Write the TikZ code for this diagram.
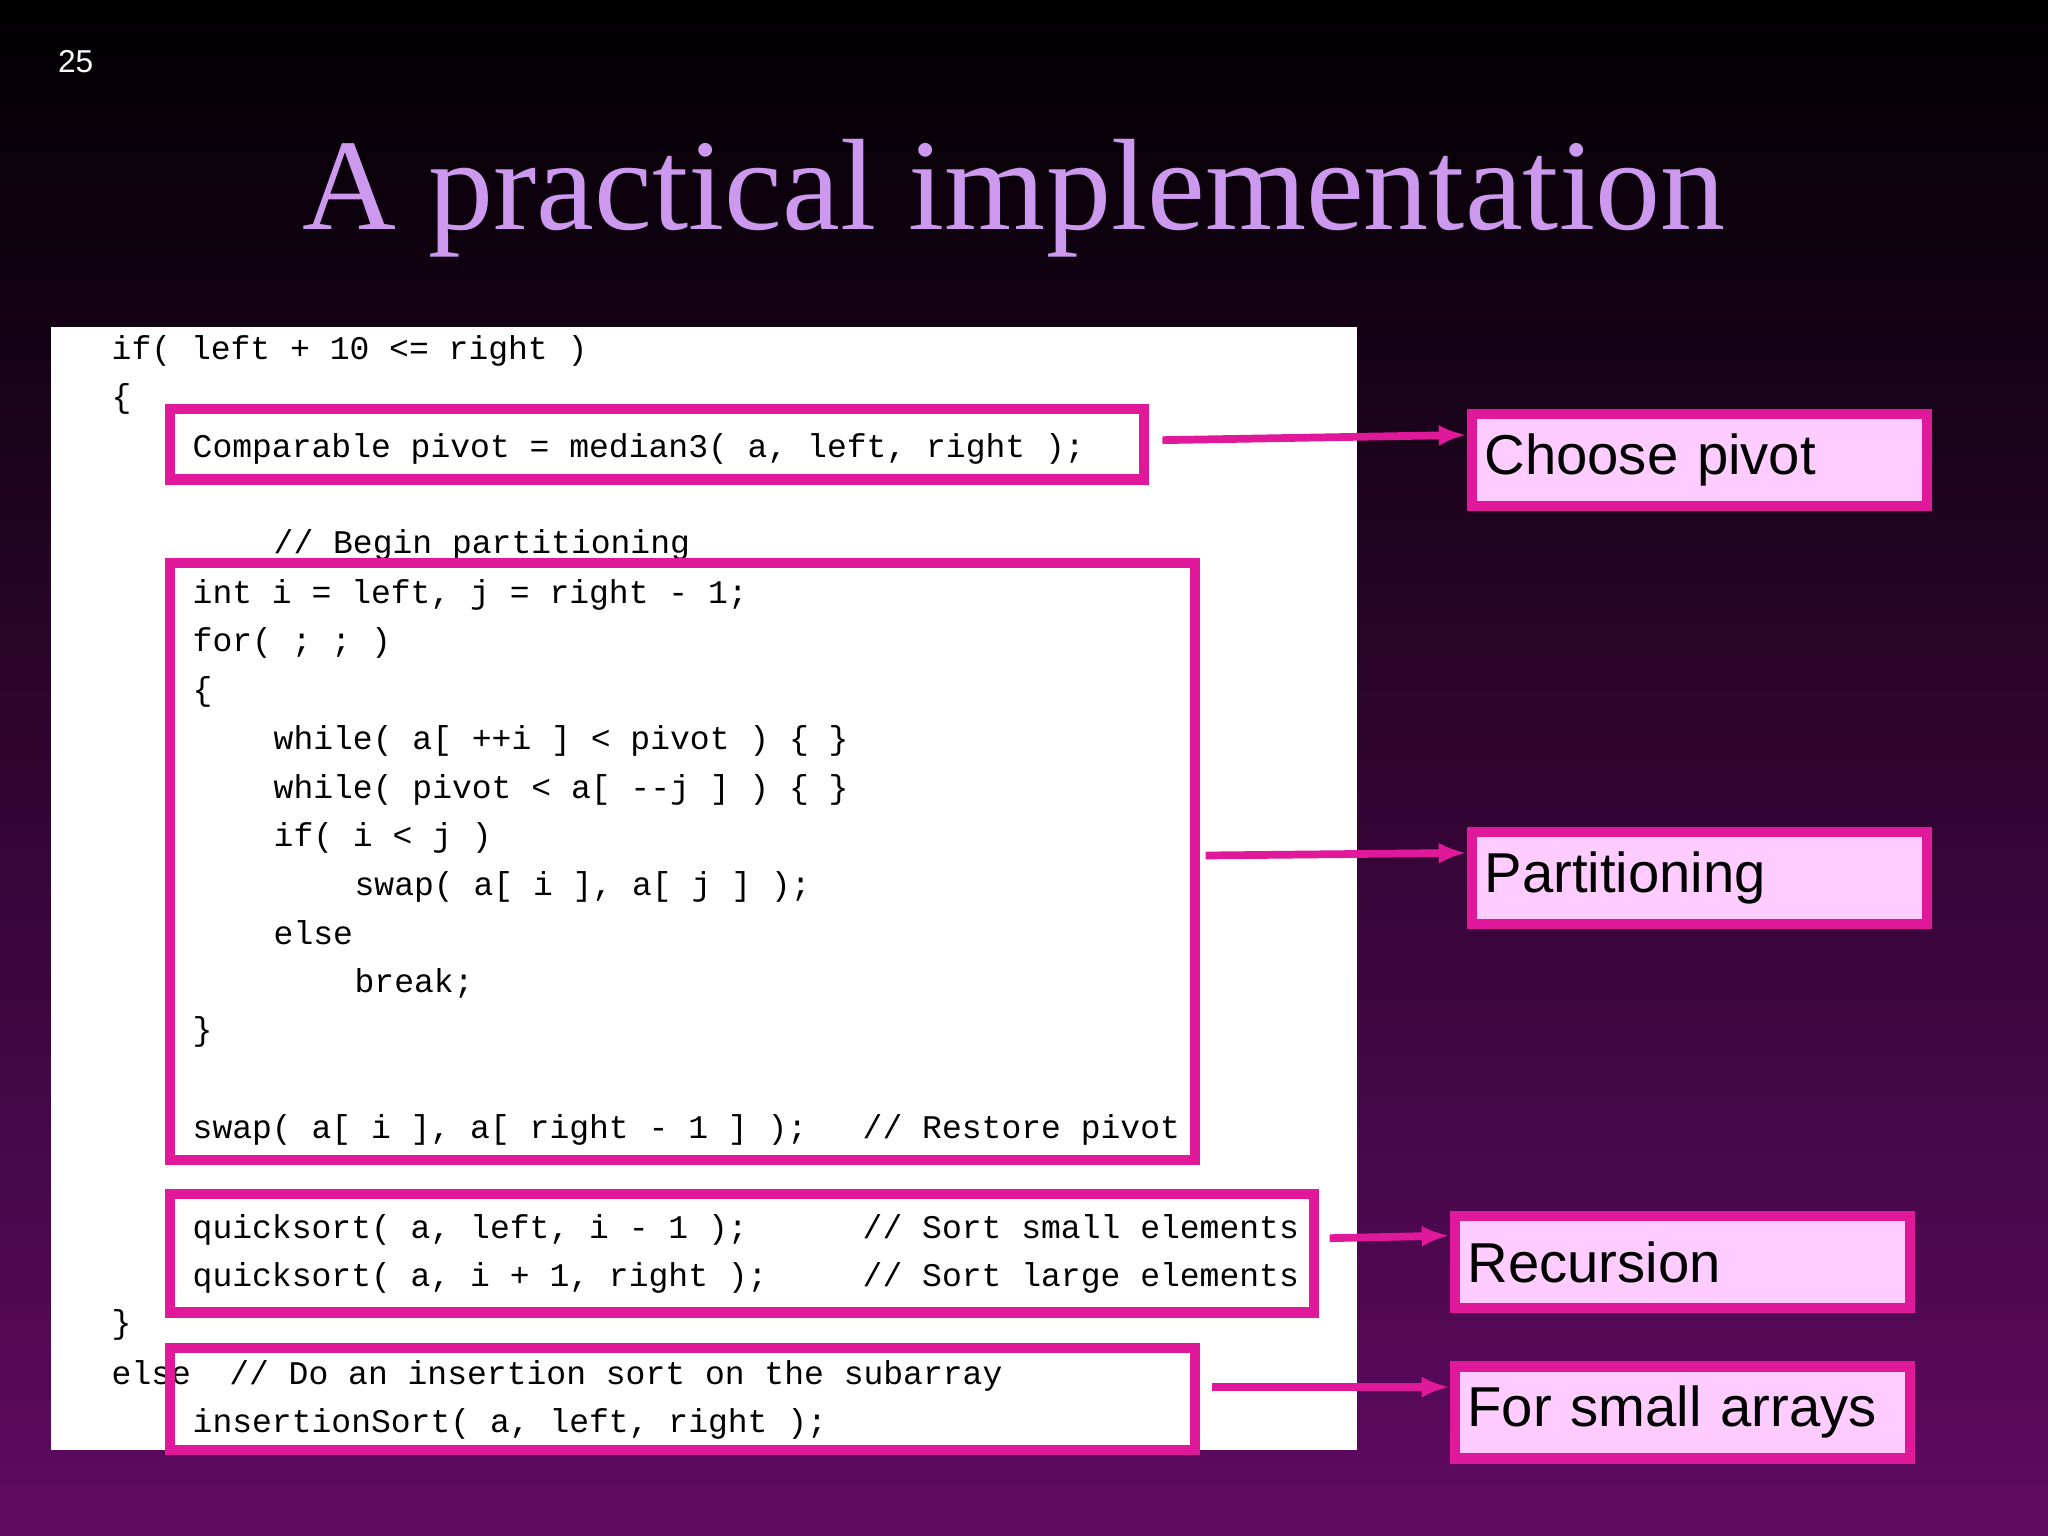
\documentclass[tikz,border=0pt]{standalone}
\usepackage{fontspec}
\setmainfont{Liberation Serif}
\setsansfont{Liberation Sans}
\setmonofont{Liberation Mono}
\usetikzlibrary{arrows.meta}
\definecolor{mag}{HTML}{E0189A}
\definecolor{lblfill}{HTML}{FFCCFF}
\definecolor{titlec}{HTML}{CC99EE}
\definecolor{botpurple}{HTML}{600A62}
\begin{document}
\begin{tikzpicture}[x=0.013061cm,y=-0.013061cm,
  code/.style={anchor=base west,inner sep=0pt,font=\ttfamily\fontsize{9.4}{11}\selectfont},
  pinkbox/.style={draw=mag,line width=3pt},
  lbl/.style={draw=mag,line width=3pt,fill=lblfill,anchor=north west,minimum width=4.55cm,minimum height=0.92cm,text width=4.3cm,inner sep=0pt,align=left,font=\sffamily\fontsize{16}{18}\selectfont},
  arr/.style={draw=mag,line width=2.2pt,-{Latex[length=8pt,width=6pt]}}]
\shade[top color=black,bottom color=botpurple] (0,0) rectangle (1568,1176);
\useasboundingbox (0,0) rectangle (1568,1176);
\node[anchor=west,text=white,font=\sffamily\fontsize{9}{10}\selectfont] (pg) at (35,47) {25};
\node[text=titlec,font=\fontsize{37}{40}\selectfont] (title) at (776,152) {A practical implementation};
\fill[white] (39,250) rectangle (1039,1110);
\def\cw{15.5}
\newcommand\cl[3]{\node[code] at ({85+\cw*#1},#2) {#3};}
\cl{0}{275}{if( left + 10 <= right )}
\cl{0}{312}{\{}
\cl{4}{350}{Comparable pivot = median3( a, left, right );}
\cl{8}{424}{// Begin partitioning}
\cl{4}{462}{int i = left, j = right - 1;}
\cl{4}{499}{for( ; ; )}
\cl{4}{536}{\{}
\cl{8}{574}{while( a[ ++i ] < pivot ) \{ \}}
\cl{8}{611}{while( pivot < a[ --j ] ) \{ \}}
\cl{8}{648}{if( i < j )}
\cl{12}{686}{swap( a[ i ], a[ j ] );}
\cl{8}{723}{else}
\cl{12}{760}{break;}
\cl{4}{797}{\}}
\cl{4}{872}{swap( a[ i ], a[ right - 1 ] );}
\node[code] at (660,872) {// Restore pivot};
\cl{4}{948}{quicksort( a, left, i - 1 );}
\node[code] at (660,948) {// Sort small elements};
\cl{4}{985}{quicksort( a, i + 1, right );}
\node[code] at (660,985) {// Sort large elements};
\cl{0}{1021}{\}}
\cl{0}{1060}{else}
\node[code] at (175,1060) {// Do an insertion sort on the subarray};
\cl{4}{1097}{insertionSort( a, left, right );}
\draw[pinkbox] (130,313) rectangle (876,367);
\draw[pinkbox] (130,431) rectangle (915,888);
\draw[pinkbox] (130,914) rectangle (1006,1005);
\draw[pinkbox] (130,1032) rectangle (915,1110);
\node[lbl] (l1) at (1123,313) {Choose pivot};
\node[lbl] (l2) at (1123,633) {Partitioning};
\node[lbl] (l3) at (1110,927) {Recursion};
\node[lbl] (l4) at (1110,1042) {For small arrays};
\coordinate (s1) at (890,337);
\coordinate (s2) at (923,655);
\coordinate (s3) at (1018,948);
\coordinate (s4) at (928,1062);
\draw[arr] (s1) -- (l1.west |- 0,333);
\draw[arr] (s2) -- (l2.west |- 0,653);
\draw[arr] (s3) -- (l3.west |- 0,946);
\draw[arr] (s4) -- (l4.west |- 0,1062);
\end{tikzpicture}
\end{document}
